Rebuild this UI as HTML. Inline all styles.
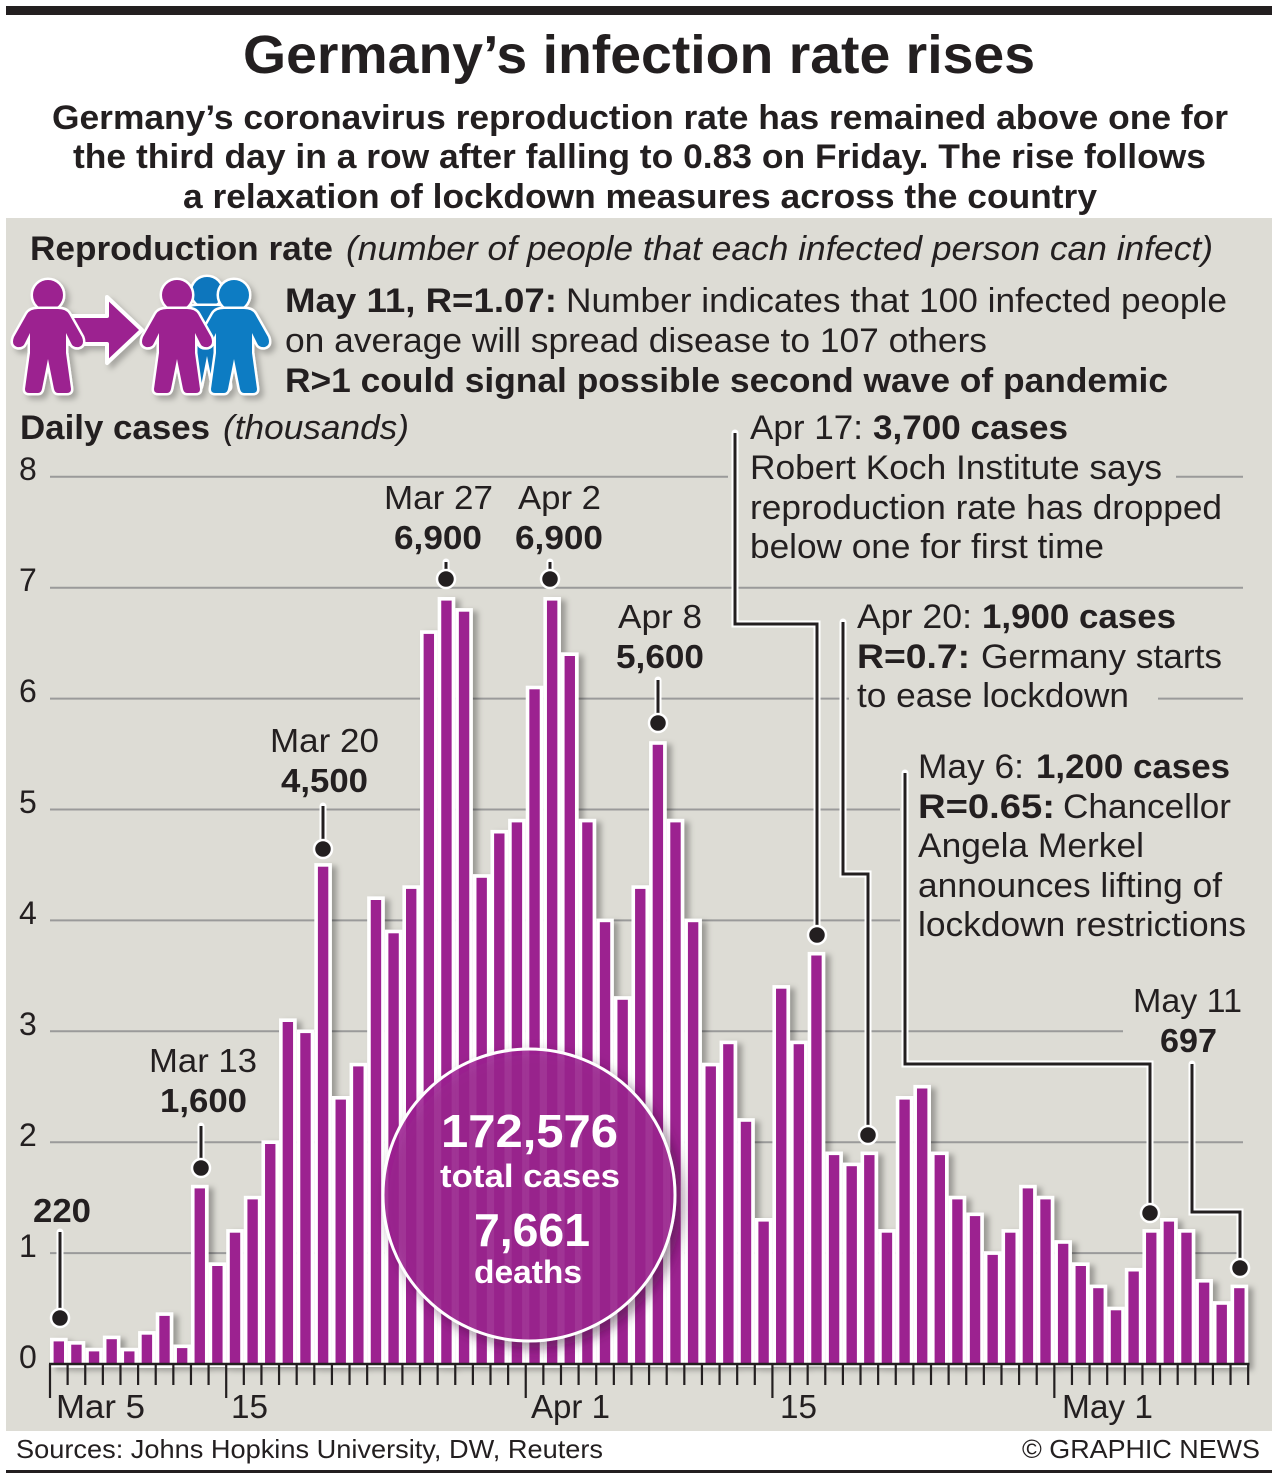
<!DOCTYPE html>
<html><head><meta charset="utf-8"><style>
html,body{margin:0;padding:0;background:#fff;}
svg{display:block;}
text{font-family:"Liberation Sans",Arial,sans-serif;fill:#231f20;}
.b{font-weight:bold;}
.i{font-style:italic;}
</style></head><body>
<svg width="1278" height="1478" viewBox="0 0 1278 1478" xmlns="http://www.w3.org/2000/svg">
<defs>
<filter id="sh" x="-10%" y="-10%" width="130%" height="130%">
<feDropShadow dx="5" dy="3" stdDeviation="3" flood-color="#000" flood-opacity="0.3"/>
</filter>
<filter id="csh" x="-20%" y="-20%" width="150%" height="150%">
<feDropShadow dx="6" dy="6" stdDeviation="6" flood-color="#3a0a35" flood-opacity="0.55"/>
</filter>
<filter id="psh" x="-20%" y="-20%" width="150%" height="150%">
<feDropShadow dx="4" dy="4" stdDeviation="3" flood-color="#000" flood-opacity="0.25"/>
</filter>
<g id="person">
<circle cx="0" cy="0" r="15"/>
<path d="M-10,14 H10 Q18,14 21,19 L34,42 Q37,50 31,52 Q25,53 23,48 L18,38 V58 L23,94 Q23,98 19,98 H10 Q7,98 6,94 L0,64 L-6,94 Q-7,98 -10,98 H-19 Q-23,98 -23,94 L-18,58 V38 L-23,48 Q-25,53 -31,52 Q-37,50 -34,42 L-21,19 Q-18,14 -10,14 Z"/>
</g>
</defs>

<rect x="6" y="6" width="1266" height="9" fill="#231f20"/>

<text class="b" x="243" y="73" font-size="54" textLength="792" lengthAdjust="spacingAndGlyphs">Germany’s infection rate rises</text>
<text class="b" x="52" y="129" font-size="34" textLength="1176" lengthAdjust="spacingAndGlyphs">Germany’s coronavirus reproduction rate has remained above one for</text>
<text class="b" x="73" y="168" font-size="34" textLength="1133" lengthAdjust="spacingAndGlyphs">the third day in a row after falling to 0.83 on Friday. The rise follows</text>
<text class="b" x="183" y="208" font-size="34" textLength="914" lengthAdjust="spacingAndGlyphs">a relaxation of lockdown measures across the country</text>

<rect x="6" y="218" width="1266" height="1213" fill="#dddcd5"/>

<text class="b" x="30" y="260" font-size="34" textLength="303" lengthAdjust="spacingAndGlyphs">Reproduction rate</text>
<text class="i" x="346" y="260" font-size="34" textLength="867" lengthAdjust="spacingAndGlyphs">(number of people that each infected person can infect)</text>

<g filter="url(#psh)">
<path d="M70,316 H107 V297 L142,330 L107,363 V344 H70 Z" fill="#9c2290" stroke="#fff" stroke-width="4" stroke-linejoin="round"/>
<g fill="#9c2290" stroke="#fff" stroke-width="5" paint-order="stroke"><use href="#person" x="48" y="295"/></g>
<g fill="#0b76bd" stroke="#fff" stroke-width="5" paint-order="stroke"><use href="#person" x="207" y="292"/></g>
<g fill="#0b7cc3" stroke="#fff" stroke-width="5" paint-order="stroke"><use href="#person" x="234" y="295"/></g>
<g fill="#9c2290" stroke="#fff" stroke-width="5" paint-order="stroke"><use href="#person" x="177" y="295"/></g>
</g>

<text class="b" x="285" y="312" font-size="34" textLength="272" lengthAdjust="spacingAndGlyphs">May 11, R=1.07:</text>
<text x="566" y="312" font-size="34" textLength="661" lengthAdjust="spacingAndGlyphs">Number indicates that 100 infected people</text>
<text x="285" y="352" font-size="34" textLength="702" lengthAdjust="spacingAndGlyphs">on average will spread disease to 107 others</text>
<text class="b" x="285" y="392" font-size="34" textLength="883" lengthAdjust="spacingAndGlyphs">R&gt;1 could signal possible second wave of pandemic</text>

<text class="b" x="20" y="439" font-size="34" textLength="190" lengthAdjust="spacingAndGlyphs">Daily cases</text>
<text class="i" x="223" y="439" font-size="34" textLength="186" lengthAdjust="spacingAndGlyphs">(thousands)</text>

<g stroke="#9a9a9a" stroke-width="2">
<line x1="50" y1="476.8" x2="728" y2="476.8"/>
<line x1="1176" y1="476.8" x2="1243" y2="476.8"/>
<line x1="50" y1="587.7" x2="1243" y2="587.7"/>
<line x1="50" y1="698.6" x2="849" y2="698.6"/>
<line x1="1158" y1="698.6" x2="1243" y2="698.6"/>
<line x1="50" y1="809.5" x2="900" y2="809.5"/>
<line x1="50" y1="920.4" x2="900" y2="920.4"/>
<line x1="50" y1="1031.3" x2="1123" y2="1031.3"/>
<line x1="50" y1="1142.2" x2="1243" y2="1142.2"/>
<line x1="50" y1="1253.1" x2="1243" y2="1253.1"/>
</g>

<g font-size="32">
<text x="19" y="480">8</text>
<text x="19" y="591">7</text>
<text x="19" y="702">6</text>
<text x="19" y="813">5</text>
<text x="19" y="924">4</text>
<text x="19" y="1035">3</text>
<text x="19" y="1146">2</text>
<text x="19" y="1257">1</text>
<text x="19" y="1368">0</text>
</g>

<g fill="#9c2290" stroke="#fff" stroke-width="3.6" filter="url(#sh)">
<rect x="51.8" y="1339.6" width="14" height="26"/>
<rect x="69.42" y="1342.9" width="14" height="23"/>
<rect x="87.04" y="1349.6" width="14" height="16"/>
<rect x="104.66" y="1337.4" width="14" height="28"/>
<rect x="122.28" y="1349.6" width="14" height="16"/>
<rect x="139.9" y="1332.9" width="14" height="33"/>
<rect x="157.52" y="1314.1" width="14" height="52"/>
<rect x="175.14" y="1346.3" width="14" height="19"/>
<rect x="192.76" y="1186.6" width="14" height="179"/>
<rect x="210.38" y="1264.2" width="14" height="101"/>
<rect x="228.0" y="1230.9" width="14" height="135"/>
<rect x="245.62" y="1197.6" width="14" height="168"/>
<rect x="263.24" y="1142.2" width="14" height="223"/>
<rect x="280.86" y="1020.2" width="14" height="345"/>
<rect x="298.48" y="1031.3" width="14" height="334"/>
<rect x="316.1" y="864.9" width="14" height="501"/>
<rect x="333.72" y="1097.8" width="14" height="268"/>
<rect x="351.34" y="1064.6" width="14" height="301"/>
<rect x="368.96" y="898.2" width="14" height="467"/>
<rect x="386.58" y="931.5" width="14" height="434"/>
<rect x="404.2" y="887.1" width="14" height="478"/>
<rect x="421.82" y="632.1" width="14" height="733"/>
<rect x="439.44" y="598.8" width="14" height="767"/>
<rect x="457.06" y="609.9" width="14" height="755"/>
<rect x="474.68" y="876.0" width="14" height="489"/>
<rect x="492.3" y="831.7" width="14" height="534"/>
<rect x="509.92" y="820.6" width="14" height="545"/>
<rect x="527.54" y="687.5" width="14" height="678"/>
<rect x="545.16" y="598.8" width="14" height="767"/>
<rect x="562.78" y="654.2" width="14" height="711"/>
<rect x="580.4" y="820.6" width="14" height="545"/>
<rect x="598.02" y="920.4" width="14" height="445"/>
<rect x="615.64" y="998.0" width="14" height="367"/>
<rect x="633.26" y="887.1" width="14" height="478"/>
<rect x="650.88" y="743.0" width="14" height="622"/>
<rect x="668.5" y="820.6" width="14" height="545"/>
<rect x="686.12" y="920.4" width="14" height="445"/>
<rect x="703.74" y="1064.6" width="14" height="301"/>
<rect x="721.36" y="1042.4" width="14" height="323"/>
<rect x="738.98" y="1120.0" width="14" height="245"/>
<rect x="756.6" y="1219.8" width="14" height="146"/>
<rect x="774.22" y="986.9" width="14" height="378"/>
<rect x="791.84" y="1042.4" width="14" height="323"/>
<rect x="809.46" y="953.7" width="14" height="411"/>
<rect x="827.08" y="1153.3" width="14" height="212"/>
<rect x="844.7" y="1164.4" width="14" height="201"/>
<rect x="862.32" y="1153.3" width="14" height="212"/>
<rect x="879.94" y="1230.9" width="14" height="135"/>
<rect x="897.56" y="1097.8" width="14" height="268"/>
<rect x="915.18" y="1086.7" width="14" height="279"/>
<rect x="932.8" y="1153.3" width="14" height="212"/>
<rect x="950.42" y="1197.6" width="14" height="168"/>
<rect x="968.04" y="1214.3" width="14" height="151"/>
<rect x="985.66" y="1253.1" width="14" height="112"/>
<rect x="1003.28" y="1230.9" width="14" height="135"/>
<rect x="1020.9" y="1186.6" width="14" height="179"/>
<rect x="1038.52" y="1197.6" width="14" height="168"/>
<rect x="1056.14" y="1242.0" width="14" height="123"/>
<rect x="1073.76" y="1264.2" width="14" height="101"/>
<rect x="1091.38" y="1286.4" width="14" height="79"/>
<rect x="1109.0" y="1308.5" width="14" height="57"/>
<rect x="1126.62" y="1269.7" width="14" height="96"/>
<rect x="1144.24" y="1230.9" width="14" height="135"/>
<rect x="1161.86" y="1219.8" width="14" height="146"/>
<rect x="1179.48" y="1230.9" width="14" height="135"/>
<rect x="1197.1" y="1280.8" width="14" height="85"/>
<rect x="1214.72" y="1303.0" width="14" height="63"/>
<rect x="1232.34" y="1286.4" width="14" height="79"/>
</g>

<line x1="49" y1="1364" x2="1249.5" y2="1364" stroke="#231f20" stroke-width="2.5"/>
<g stroke="#231f20" stroke-width="2.2">
<path d="M50,1364V1398 M67.62,1364V1385 M85.24,1364V1385 M102.86,1364V1385 M120.48,1364V1385 M138.1,1364V1385 M155.72,1364V1385 M173.34,1364V1385 M190.96,1364V1385 M208.58,1364V1385 M226.2,1364V1398 M243.82,1364V1385 M261.44,1364V1385 M279.06,1364V1385 M296.68,1364V1385 M314.3,1364V1385 M331.92,1364V1385 M349.54,1364V1385 M367.16,1364V1385 M384.78,1364V1385 M402.4,1364V1385 M420.02,1364V1385 M437.64,1364V1385 M455.26,1364V1385 M472.88,1364V1385 M490.5,1364V1385 M508.12,1364V1385 M525.74,1364V1398 M543.36,1364V1385 M560.98,1364V1385 M578.6,1364V1385 M596.22,1364V1385 M613.84,1364V1385 M631.46,1364V1385 M649.08,1364V1385 M666.7,1364V1385 M684.32,1364V1385 M701.94,1364V1385 M719.56,1364V1385 M737.18,1364V1385 M754.8,1364V1385 M772.42,1364V1398 M790.04,1364V1385 M807.66,1364V1385 M825.28,1364V1385 M842.9,1364V1385 M860.52,1364V1385 M878.14,1364V1385 M895.76,1364V1385 M913.38,1364V1385 M931,1364V1385 M948.62,1364V1385 M966.24,1364V1385 M983.86,1364V1385 M1001.48,1364V1385 M1019.1,1364V1385 M1036.72,1364V1385 M1054.34,1364V1398 M1071.96,1364V1385 M1089.58,1364V1385 M1107.2,1364V1385 M1124.82,1364V1385 M1142.44,1364V1385 M1160.06,1364V1385 M1177.68,1364V1385 M1195.3,1364V1385 M1212.92,1364V1385 M1230.54,1364V1385 M1248.16,1364V1385"/>
</g>
<g font-size="33">
<text x="56" y="1418" textLength="89" lengthAdjust="spacingAndGlyphs">Mar 5</text>
<text x="231" y="1418" textLength="37" lengthAdjust="spacingAndGlyphs">15</text>
<text x="531" y="1418" textLength="79" lengthAdjust="spacingAndGlyphs">Apr 1</text>
<text x="780" y="1418" textLength="37" lengthAdjust="spacingAndGlyphs">15</text>
<text x="1062" y="1418" textLength="91" lengthAdjust="spacingAndGlyphs">May 1</text>
</g>

<circle cx="529" cy="1195" r="146" fill="#9c2290" fill-opacity="0.86" stroke="#fff" stroke-width="3" filter="url(#csh)"/>
<g>
<text class="b" x="441" y="1147" font-size="46" textLength="177" lengthAdjust="spacingAndGlyphs" style="fill:#fff">172,576</text>
<text class="b" x="440" y="1187" font-size="32" textLength="180" lengthAdjust="spacingAndGlyphs" style="fill:#fff">total cases</text>
<text class="b" x="474" y="1246" font-size="46" textLength="116" lengthAdjust="spacingAndGlyphs" style="fill:#fff">7,661</text>
<text class="b" x="474" y="1283" font-size="32" textLength="108" lengthAdjust="spacingAndGlyphs" style="fill:#fff">deaths</text>
</g>

<g fill="none" stroke="#fff" stroke-width="7" stroke-linejoin="miter" stroke-linecap="round">
<path d="M60,1232 V1318"/>
<path d="M201,1126 V1168"/>
<path d="M323,806 V849"/>
<path d="M446,562 V579"/>
<path d="M550,562 V579"/>
<path d="M658,680 V723"/>
<path d="M735,433 V624 H817 V935"/>
<path d="M843,622 V874 H868 V1135"/>
<path d="M905,773 V1064 H1150 V1213"/>
<path d="M1192,1064 V1212 H1240 V1268"/>
</g>
<g fill="none" stroke="#231f20" stroke-width="3" stroke-linejoin="miter">
<path d="M60,1232 V1318"/>
<path d="M201,1126 V1168"/>
<path d="M323,806 V849"/>
<path d="M446,562 V579"/>
<path d="M550,562 V579"/>
<path d="M658,680 V723"/>
<path d="M735,433 V624 H817 V935"/>
<path d="M843,622 V874 H868 V1135"/>
<path d="M905,773 V1064 H1150 V1213"/>
<path d="M1192,1064 V1212 H1240 V1268"/>
</g>
<g fill="#231f20" stroke="#fff" stroke-width="2.5">
<circle cx="60" cy="1318" r="9"/>
<circle cx="201" cy="1168" r="9"/>
<circle cx="323" cy="849" r="9"/>
<circle cx="446" cy="579" r="9"/>
<circle cx="550" cy="579" r="9"/>
<circle cx="658" cy="723" r="9"/>
<circle cx="817" cy="935" r="9"/>
<circle cx="868" cy="1135" r="9"/>
<circle cx="1150" cy="1213" r="9"/>
<circle cx="1240" cy="1268" r="9"/>
</g>

<g font-size="33">
<text class="b" x="33" y="1222" textLength="58" lengthAdjust="spacingAndGlyphs">220</text>
<text x="149" y="1072" textLength="108" lengthAdjust="spacingAndGlyphs">Mar 13</text>
<text class="b" x="160" y="1112" textLength="87" lengthAdjust="spacingAndGlyphs">1,600</text>
<text x="270" y="752" textLength="109" lengthAdjust="spacingAndGlyphs">Mar 20</text>
<text class="b" x="281" y="792" textLength="87" lengthAdjust="spacingAndGlyphs">4,500</text>
<text x="384" y="509" textLength="109" lengthAdjust="spacingAndGlyphs">Mar 27</text>
<text class="b" x="394" y="549" textLength="88" lengthAdjust="spacingAndGlyphs">6,900</text>
<text x="518" y="509" textLength="83" lengthAdjust="spacingAndGlyphs">Apr 2</text>
<text class="b" x="515" y="549" textLength="88" lengthAdjust="spacingAndGlyphs">6,900</text>
<text x="618" y="628" textLength="84" lengthAdjust="spacingAndGlyphs">Apr 8</text>
<text class="b" x="616" y="668" textLength="88" lengthAdjust="spacingAndGlyphs">5,600</text>
<text x="1133" y="1012" textLength="109" lengthAdjust="spacingAndGlyphs">May 11</text>
<text class="b" x="1160" y="1052" textLength="57" lengthAdjust="spacingAndGlyphs">697</text>
</g>

<g font-size="34">
<text x="750" y="439" textLength="113" lengthAdjust="spacingAndGlyphs">Apr 17:</text>
<text class="b" x="873" y="439" textLength="195" lengthAdjust="spacingAndGlyphs">3,700 cases</text>
<text x="750" y="479" textLength="412" lengthAdjust="spacingAndGlyphs">Robert Koch Institute says</text>
<text x="750" y="519" textLength="472" lengthAdjust="spacingAndGlyphs">reproduction rate has dropped</text>
<text x="750" y="558" textLength="354" lengthAdjust="spacingAndGlyphs">below one for first time</text>

<text x="857" y="628" textLength="115" lengthAdjust="spacingAndGlyphs">Apr 20:</text>
<text class="b" x="982" y="628" textLength="194" lengthAdjust="spacingAndGlyphs">1,900 cases</text>
<text class="b" x="857" y="668" textLength="113" lengthAdjust="spacingAndGlyphs">R=0.7:</text>
<text x="981" y="668" textLength="241" lengthAdjust="spacingAndGlyphs">Germany starts</text>
<text x="857" y="707" textLength="272" lengthAdjust="spacingAndGlyphs">to ease lockdown</text>

<text x="918" y="778" textLength="106" lengthAdjust="spacingAndGlyphs">May 6:</text>
<text class="b" x="1036" y="778" textLength="194" lengthAdjust="spacingAndGlyphs">1,200 cases</text>
<text class="b" x="918" y="818" textLength="137" lengthAdjust="spacingAndGlyphs">R=0.65:</text>
<text x="1063" y="818" textLength="168" lengthAdjust="spacingAndGlyphs">Chancellor</text>
<text x="918" y="857" textLength="226" lengthAdjust="spacingAndGlyphs">Angela Merkel</text>
<text x="918" y="897" textLength="304" lengthAdjust="spacingAndGlyphs">announces lifting of</text>
<text x="918" y="936" textLength="328" lengthAdjust="spacingAndGlyphs">lockdown restrictions</text>
</g>

<text x="16" y="1458" font-size="26" textLength="587" lengthAdjust="spacingAndGlyphs">Sources: Johns Hopkins University, DW, Reuters</text>
<text x="1022" y="1458" font-size="26" textLength="238" lengthAdjust="spacingAndGlyphs">© GRAPHIC NEWS</text>
<rect x="6" y="1470" width="1266" height="3" fill="#231f20"/>
</svg>
</body></html>
